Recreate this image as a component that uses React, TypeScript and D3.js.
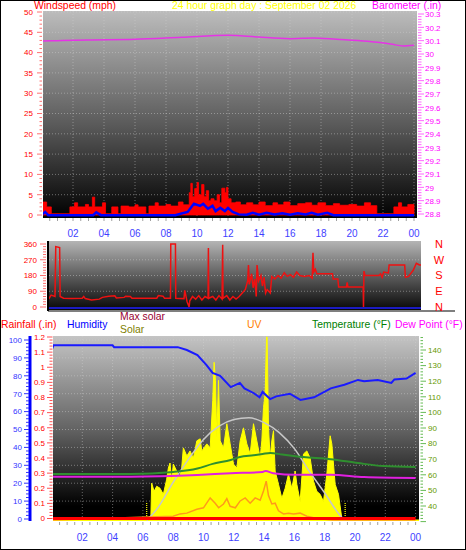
import React from "react";
import * as d3 from "d3";

const FONT = "'Liberation Sans', Arial, Helvetica, sans-serif";

// ---------- time axis ----------
const hourTickValues = [2, 4, 6, 8, 10, 12, 14, 16, 18, 20, 22, 24];
const hourTickLabels = ["02", "04", "06", "08", "10", "12", "14", "16", "18", "20", "22", "00"];

// ---------- top panel: wind speed (mph) & barometer (in) ----------
const gustHours = [0, 0.3, 0.6, 1.8, 2.1, 2.3, 2.8, 3.0, 3.25, 3.4, 3.9, 4.1, 4.5, 4.9, 5.1, 5.6, 6.0, 6.2, 6.7, 6.9, 7.3, 7.5, 8.0, 8.3, 8.8, 9.1, 9.5, 9.6, 9.7, 9.85, 10.0, 10.1, 10.3, 10.45, 10.6, 10.75, 10.9, 11.1, 11.3, 11.45, 11.6, 11.8, 11.9, 12.0, 12.2, 12.5, 12.8, 13.2, 13.6, 14.0, 14.4, 14.9, 15.2, 15.6, 16.0, 16.5, 17.0, 17.4, 17.8, 18.3, 18.8, 19.2, 19.8, 20.3, 20.8, 21.2, 21.6, 22.7, 23.0, 23.2, 23.6, 24.0];
const gustMph = [3.2, 2.0, 0.3, 2.0, 3.0, 2.0, 2.6, 2.0, 4.4, 2.0, 3.0, 0.3, 2.0, 0.3, 2.2, 2.0, 2.5, 2.0, 0.3, 2.2, 3.0, 2.2, 2.6, 2.2, 3.2, 2.5, 5.5, 7.8, 4.5, 6.5, 8.0, 5.0, 7.5, 4.5, 6.0, 3.5, 4.0, 3.5, 5.0, 3.0, 6.6, 5.5, 6.8, 4.0, 3.0, 3.2, 2.5, 3.0, 2.5, 3.2, 2.3, 3.0, 2.5, 3.2, 2.3, 2.8, 3.0, 2.4, 3.0, 2.3, 2.8, 2.4, 2.6, 2.2, 3.0, 2.3, 0.3, 2.0, 3.0, 2.0, 2.6, 2.0];

const avgWindHours = [0, 0.2, 0.4, 3.3, 3.5, 3.8, 8.6, 9.0, 9.4, 9.8, 10.2, 10.4, 10.7, 11.0, 11.2, 11.5, 11.8, 12.0, 12.3, 12.7, 13.2, 13.6, 14.0, 14.5, 15.0, 15.5, 16.0, 16.5, 17.0, 17.4, 17.8, 18.4, 18.8, 24];
const avgWindMph = [0.3, 1.0, 0.2, 0.2, 0.9, 0.2, 0.2, 0.6, 1.0, 3.0, 2.5, 3.0, 1.8, 2.5, 1.2, 2.0, 1.2, 2.0, 1.0, 0.4, 0.3, 0.8, 0.3, 0.8, 0.4, 0.7, 0.3, 0.7, 0.4, 0.8, 0.3, 0.8, 0.2, 0.2];

const baroHours = [0, 1, 3, 6, 9, 12, 13, 14, 16, 17.5, 19, 21, 22.5, 23.3, 24];
const baroInHg = [30.097, 30.1, 30.105, 30.11, 30.125, 30.14, 30.135, 30.127, 30.115, 30.12, 30.11, 30.095, 30.075, 30.06, 30.065];

const windTicks = [0, 5, 10, 15, 20, 25, 30, 35, 40, 45, 50];
const baroTicks = [28.8, 28.9, 29.0, 29.1, 29.2, 29.3, 29.4, 29.5, 29.6, 29.7, 29.8, 29.9, 30.0, 30.1, 30.2, 30.3];
const baroTickLabels = ["28.8", "28.9", "29", "29.1", "29.2", "29.3", "29.4", "29.5", "29.6", "29.7", "29.8", "29.9", "30", "30.1", "30.2", "30.3"];

// ---------- middle panel: wind direction ----------
const dirHours = [0, 0.2, 0.45, 0.5, 0.75, 0.78, 1.0, 1.5, 2.2, 2.3, 2.4, 2.8, 3.3, 3.5, 3.9, 4.3, 4.4, 4.9, 5.0, 5.3, 5.4, 7.0, 7.1, 7.4, 7.5, 7.88, 7.9, 8.2, 8.22, 8.75, 8.8, 8.95, 9.08, 9.12, 9.3, 9.5, 9.7, 9.9, 10.1, 10.3, 10.32, 10.34, 10.6, 10.8, 11.0, 11.2, 11.24, 11.26, 11.5, 11.7, 11.9, 12.1, 12.3, 12.5, 12.7, 12.85, 12.9, 12.95, 13.1, 13.2, 13.3, 13.4, 13.45, 13.55, 13.7, 13.8, 13.9, 14.0, 14.1, 14.3, 14.4, 14.6, 14.8, 15.0, 15.2, 15.4, 15.6, 15.8, 16.0, 16.2, 16.5, 16.8, 17.0, 17.05, 17.1, 17.2, 17.3, 18.3, 18.35, 18.65, 18.7, 19.2, 19.25, 19.3, 20.28, 20.3, 20.33, 20.4, 21.3, 21.4, 21.5, 21.6, 21.9, 21.95, 22.95, 23.0, 23.2, 23.5, 23.7, 23.9, 24];
const dirDeg = [40, 68, 60, 345, 340, 60, 50, 48, 50, 60, 48, 40, 45, 55, 62, 64, 52, 55, 62, 60, 50, 50, 65, 62, 50, 50, 360, 360, 50, 48, 95, 30, 0, 35, 60, 45, 65, 40, 60, 50, 337, 50, 60, 40, 65, 45, 355, 50, 65, 40, 60, 45, 60, 80, 100, 150, 240, 130, 190, 110, 160, 60, 240, 150, 180, 120, 170, 80, 100, 80, 175, 160, 180, 165, 195, 175, 185, 170, 200, 180, 175, 180, 165, 310, 200, 215, 190, 190, 160, 160, 115, 115, 140, 115, 115, 0, 205, 180, 180, 190, 170, 200, 195, 240, 240, 170, 175, 210, 250, 240, 240];

const dirTicks = [0, 90, 180, 270, 360];
const dirLetters = ["N", "E", "S", "W", "N"];

// ---------- bottom panel ----------
const humHours = [0, 0.1, 4.0, 4.1, 8.3, 8.9, 9.6, 10.2, 10.6, 11.1, 11.8, 12.4, 12.7, 13.3, 13.7, 13.9, 14.4, 14.8, 15.7, 16.4, 17.3, 18.4, 19.3, 20.2, 20.6, 21.5, 22.4, 22.6, 23.4, 24.0];
const humPct = [95, 97, 97, 96, 96, 94.4, 91.6, 86, 81.6, 80, 73.7, 76, 73, 70.4, 68, 71, 67, 68.5, 70, 66.5, 68, 73, 75, 77.7, 77, 77.7, 76, 78, 78.5, 81.6];

const tempHours = [0, 5.2, 8.0, 9.6, 10.6, 11.8, 12.4, 13.3, 13.9, 14.4, 15.2, 16.6, 18.4, 20.2, 21.9, 24];
const tempF = [60.5, 60.5, 61.8, 64, 67, 69.5, 71.4, 72.5, 73.3, 74, 73, 71.4, 70, 67.5, 65.6, 65];

const dewHours = [0, 5.2, 9.6, 11.8, 13.9, 14.1, 14.6, 16.1, 18.4, 20.6, 24];
const dewF = [58.8, 58.8, 59.9, 61, 61.8, 62.5, 61, 60, 60, 58.6, 58];

const rainHours = [0, 24];
const rainIn = [0, 0];

const solarHours = [6.25, 6.52, 6.58, 6.74, 6.91, 7.13, 7.35, 7.57, 7.68, 7.79, 7.9, 8.01, 8.23, 8.45, 8.56, 8.67, 8.9, 9.11, 9.33, 9.56, 9.78, 9.89, 10.22, 10.44, 10.61, 10.7, 10.79, 10.88, 10.99, 11.1, 11.32, 11.54, 11.76, 11.98, 12.2, 12.42, 12.64, 12.86, 13.08, 13.3, 13.52, 13.74, 13.85, 13.96, 14.07, 14.16, 14.2, 14.29, 14.4, 14.51, 14.62, 14.73, 14.95, 15.17, 15.39, 15.61, 15.83, 16.05, 16.16, 16.38, 16.6, 16.82, 17.04, 17.26, 17.48, 17.7, 17.92, 18.14, 18.36, 18.47, 18.69, 18.91, 19.13, 19.35];
const solarWm2 = [0, 5, 244, 191, 224, 211, 171, 270, 343, 376, 257, 369, 323, 290, 343, 475, 422, 455, 409, 521, 534, 455, 501, 475, 784, 1035, 916, 541, 916, 521, 475, 633, 501, 369, 343, 521, 606, 501, 435, 633, 521, 409, 521, 738, 831, 1200, 1200, 606, 409, 521, 587, 323, 237, 145, 211, 303, 211, 323, 237, 125, 435, 455, 409, 257, 191, 171, 125, 303, 554, 501, 237, 171, 13, 0];

const maxSolarHours = [6.25, 7, 8, 9, 10, 11, 12, 13, 14, 15, 16, 17, 18, 19, 19.35];
const maxSolarWm2 = [0, 85, 250, 400, 530, 615, 660, 672, 640, 575, 470, 320, 180, 35, 0];

const uvHours = [0, 8.0, 8.45, 8.9, 9.56, 10.0, 10.44, 10.77, 11.0, 11.32, 11.54, 11.76, 12.1, 12.42, 12.75, 13.08, 13.41, 13.74, 13.96, 14.14, 14.29, 14.51, 14.73, 14.95, 15.28, 15.61, 15.94, 16.38, 16.82, 17.48, 18.5, 24];
const uvIndex = [0, 0.25, 0.4, 0.45, 0.7, 0.8, 1.45, 1.1, 0.8, 1.05, 1.4, 0.9, 0.8, 1.25, 1.45, 1.1, 1.45, 1.3, 1.9, 2.55, 1.6, 1.05, 1.1, 0.6, 0.4, 0.45, 0.4, 0.45, 0.25, 0.1, 0, 0];

const sunEventHours = [6.25, 19.35];

const humTicks = [0, 10, 20, 30, 40, 50, 60, 70, 80, 90, 100];
const rainTicks = [0, 0.1, 0.2, 0.3, 0.4, 0.5, 0.6, 0.7, 0.8, 0.9, 1.0, 1.1, 1.2];
const rainTickLabels = ["0", "0.1", "0.2", "0.3", "0.4", "0.5", "0.6", "0.7", "0.8", "0.9", "1", "1.1", "1.2"];
const tempTicks = [40, 50, 60, 70, 80, 90, 100, 110, 120, 130, 140];

type P = [number, number];
const zip = (a: number[], b: number[]): P[] => a.map((h, i) => [h, b[i]] as P);

export default function App() {
  // scales
  const xT = d3.scaleLinear().domain([0, 24]).range([42, 414]);
  const yWind = d3.scaleLinear().domain([0, 50]).range([215, 12]);
  const yBaro = d3.scaleLinear().domain([28.8, 30.3]).range([214, 14]);

  const xM = d3.scaleLinear().domain([0, 24]).range([48, 421]);
  const yDir = d3.scaleLinear().domain([0, 360]).range([307, 244]);

  const xB = d3.scaleLinear().domain([0, 24]).range([52, 415.6]);
  const yHum = d3.scaleLinear().domain([0, 100]).range([519, 340]);
  const yRain = d3.scaleLinear().domain([0, 1.2]).range([518.5, 337]);
  const yTemp = d3.scaleLinear().domain([40, 140]).range([506, 350]);
  const ySolar = d3.scaleLinear().domain([0, 1200]).range([520.5, 337]);
  const yUV = d3.scaleLinear().domain([0, 12]).range([520, 337]);

  const gustArea = d3.area<P>().x(d => xT(d[0])).y0(yWind(0)).y1(d => yWind(d[1])).curve(d3.curveStepAfter)(zip(gustHours, gustMph)) || "";
  const avgLine = d3.line<P>().x(d => xT(d[0])).y(d => yWind(d[1]) + 1)(zip(avgWindHours, avgWindMph)) || "";
  const baroLine = d3.line<P>().x(d => xT(d[0])).y(d => yBaro(d[1])).curve(d3.curveMonotoneX)(zip(baroHours, baroInHg)) || "";

  const dirLine = d3.line<P>().x(d => xM(d[0])).y(d => yDir(d[1]))(zip(dirHours, dirDeg)) || "";

  const humLine = d3.line<P>().x(d => xB(d[0])).y(d => yHum(d[1]))(zip(humHours, humPct)) || "";
  const tempLine = d3.line<P>().x(d => xB(d[0])).y(d => yTemp(d[1])).curve(d3.curveMonotoneX)(zip(tempHours, tempF)) || "";
  const dewLine = d3.line<P>().x(d => xB(d[0])).y(d => yTemp(d[1])).curve(d3.curveMonotoneX)(zip(dewHours, dewF)) || "";
  const rainLine = d3.line<P>().x(d => xB(d[0])).y(d => yRain(d[1]))(zip(rainHours, rainIn)) || "";
  const solarArea = d3.area<P>().x(d => xB(d[0])).y0(ySolar(0)).y1(d => ySolar(d[1]))(zip(solarHours, solarWm2)) || "";
  const maxSolarLine = d3.line<P>().x(d => xB(d[0])).y(d => ySolar(d[1])).curve(d3.curveMonotoneX)(zip(maxSolarHours, maxSolarWm2)) || "";
  const uvLine = d3.line<P>().x(d => xB(d[0])).y(d => yUV(d[1]))(zip(uvHours, uvIndex)) || "";

  const top = { x: 43, y: 11, w: 374, h: 207 };
  const mid = { x: 49, y: 241, w: 372, h: 69 };
  const bot = { x: 53, y: 336, w: 366, h: 185 };

  const halfHours = d3.range(0.5, 24.01, 0.5);
  const grid = "rgba(210,210,210,0.45)";
  const HF = 10.4;

  return (
    <svg width={466} height={550} style={{ position: "absolute", left: 0, top: 0, background: "#fff" }} fontFamily={FONT}>
      <defs>
        <linearGradient id="gTop" x1="0" y1="0" x2="0" y2="1">
          <stop offset="0" stopColor="#bcbcbc" />
          <stop offset="0.55" stopColor="#5a5a5a" />
          <stop offset="1" stopColor="#000" />
        </linearGradient>
        <linearGradient id="gMid" x1="0" y1="0" x2="0" y2="1">
          <stop offset="0" stopColor="#b4b4b4" />
          <stop offset="1" stopColor="#080808" />
        </linearGradient>
        <linearGradient id="gBot" x1="0" y1="0" x2="0" y2="1">
          <stop offset="0" stopColor="#c4c4c4" />
          <stop offset="0.5" stopColor="#646464" />
          <stop offset="0.92" stopColor="#000" />
          <stop offset="1" stopColor="#000" />
        </linearGradient>
        <clipPath id="cTop"><rect x={top.x} y={top.y} width={top.w} height={top.h} /></clipPath>
        <clipPath id="cMid"><rect x={mid.x} y={mid.y} width={mid.w} height={mid.h} /></clipPath>
        <clipPath id="cBot"><rect x={bot.x} y={bot.y} width={bot.w} height={bot.h} /></clipPath>
        <clipPath id="cBotAxis"><rect x={0} y={335} width={466} height={200} /></clipPath>
      </defs>

      {/* outer frame */}
      <rect x={0.5} y={0.5} width={465} height={549} fill="none" stroke="#000" strokeWidth={1} />

      {/* ================= TOP PANEL ================= */}
      <text x={34} y={9} fontSize={HF} fill="#ff0000">Windspeed (mph)</text>
      <text x={172} y={9} fontSize={HF} fill="#ffff00">24 hour graph day : September 02 2026</text>
      <text x={372} y={9} fontSize={HF} fill="#ff00ff">Barometer (.in)</text>

      <rect x={top.x} y={top.y} width={top.w} height={top.h} fill="url(#gTop)" />
      <g clipPath="url(#cTop)">
        {windTicks.slice(1).map(v => (
          <line key={"hg" + v} x1={top.x} x2={top.x + top.w} y1={yWind(v)} y2={yWind(v)} stroke={grid} strokeDasharray="1,2" />
        ))}
        {hourTickValues.map(h => (
          <line key={"vg" + h} x1={xT(h)} x2={xT(h)} y1={top.y} y2={top.y + top.h} stroke={grid} strokeDasharray="1,2" />
        ))}
        <path d={gustArea} fill="#ff0000" stroke="#ff0000" strokeWidth={0.8} />
        <path d={avgLine} fill="none" stroke="#0000ff" strokeWidth={2.5} />
        <path d={baroLine} fill="none" stroke="#e633e6" strokeWidth={1.5} />
      </g>
      {/* wind axis */}
      {d3.range(0, 50.01, 1).map(v => (
        <line key={"wt" + v} x1={v % 5 === 0 ? 37 : 39.5} x2={42} y1={yWind(v)} y2={yWind(v)} stroke="#ff7070" strokeWidth={1} />
      ))}
      {windTicks.map(v => (
        <text key={"wl" + v} x={33} y={yWind(v)} dy="0.35em" fontSize={8} fill="#ff0000" textAnchor="end">{v}</text>
      ))}
      {/* barometer axis */}
      {d3.range(0, 76).map(i => {
        const v = 28.8 + i * 0.02;
        const major = i % 5 === 0;
        return <line key={"bt" + i} x1={418} x2={major ? 424 : 421.5} y1={yBaro(v)} y2={yBaro(v)} stroke="#ff66ff" strokeWidth={1} />;
      })}
      {baroTicks.map((v, i) => (
        <text key={"bl" + i} x={425} y={yBaro(v) + 0.5} dy="0.35em" fontSize={8} fill="#ff00ff">{baroTickLabels[i]}</text>
      ))}
      {/* top x ticks */}
      {halfHours.map(h => (
        <line key={"txt" + h} x1={xT(h)} x2={xT(h)} y1={218} y2={221} stroke="#a0a0a0" />
      ))}
      {hourTickValues.map((h, i) => (
        <text key={"txl" + h} x={xT(h)} y={233} dy="0.35em" fontSize={10} fill="#3f3fff" textAnchor="middle">{hourTickLabels[i]}</text>
      ))}

      {/* ================= MIDDLE PANEL ================= */}
      <rect x={mid.x} y={mid.y} width={mid.w} height={mid.h} fill="url(#gMid)" />
      <g clipPath="url(#cMid)">
        {dirTicks.slice(1, 4).map(v => (
          <line key={"dg" + v} x1={mid.x} x2={mid.x + mid.w} y1={yDir(v)} y2={yDir(v)} stroke={grid} strokeDasharray="1,2" />
        ))}
        <line x1={mid.x} x2={mid.x + mid.w} y1={308} y2={308} stroke="#2020ff" strokeWidth={1.5} />
        <path d={dirLine} fill="none" stroke="#ee1111" strokeWidth={1.5} />
      </g>
      <line x1={48} x2={48} y1={241} y2={311} stroke="#000" strokeWidth={2} />
      <line x1={48} x2={455} y1={311} y2={311} stroke="#000" strokeWidth={1.2} />
      {d3.range(0, 361, 15).map(v => (
        <line key={"dt" + v} x1={v % 90 === 0 ? 40 : 43} x2={46} y1={yDir(v)} y2={yDir(v)} stroke="#ff7070" />
      ))}
      {dirTicks.map(v => (
        <text key={"dl" + v} x={37} y={yDir(v)} dy="0.35em" fontSize={8} fill="#ff0000" textAnchor="end">{v}</text>
      ))}
      {dirTicks.map((v, i) => (
        <text key={"dL" + v} x={439} y={yDir(v)} dy="0.36em" fontSize={11} fill="#ff0000" textAnchor="middle">{dirLetters[i]}</text>
      ))}

      {/* ================= BOTTOM PANEL ================= */}
      <text x={1} y={328} fontSize={HF} fill="#ff0000">Rainfall (.in)</text>
      <text x={67} y={328} fontSize={HF} fill="#0000ff">Humidity</text>
      <text x={120} y={320} fontSize={HF} fill="#990033">Max solar</text>
      <text x={120} y={333} fontSize={HF} fill="#808000">Solar</text>
      <text x={247} y={328} fontSize={HF} fill="#ff8000">UV</text>
      <text x={312} y={328} fontSize={HF} fill="#008000">Temperature (°F)</text>
      <text x={395} y={328} fontSize={HF} fill="#ff00ff">Dew Point (°F)</text>

      <rect x={bot.x} y={bot.y} width={bot.w} height={bot.h} fill="url(#gBot)" />
      <g clipPath="url(#cBot)">
        {humTicks.slice(1).map(v => (
          <line key={"bg" + v} x1={bot.x} x2={bot.x + bot.w} y1={yHum(v)} y2={yHum(v)} stroke={grid} strokeDasharray="1,2" />
        ))}
        {hourTickValues.map(h => (
          <line key={"bvg" + h} x1={xB(h)} x2={xB(h)} y1={bot.y} y2={bot.y + bot.h} stroke={grid} strokeDasharray="1,2" />
        ))}
        <line x1={bot.x} x2={bot.x + bot.w} y1={520.5} y2={520.5} stroke="#ffff00" strokeWidth={2} />
        <path d={solarArea} fill="#ffff00" stroke="#ffff00" strokeWidth={1} />
        {sunEventHours.map(h => (
          <line key={"sun" + h} x1={xB(h)} x2={xB(h)} y1={503} y2={519} stroke="#ffff00" strokeWidth={1.2} strokeDasharray="1,1" />
        ))}
        <path d={maxSolarLine} fill="none" stroke="#c8c8c8" strokeWidth={1.5} />
        <path d={uvLine} fill="none" stroke="#ff9a1a" strokeWidth={1.5} />
        <path d={tempLine} fill="none" stroke="#2f8f2f" strokeWidth={2} />
        <path d={dewLine} fill="none" stroke="#e020e0" strokeWidth={2} />
        <path d={humLine} fill="none" stroke="#1a1aff" strokeWidth={2} />
        <path d={rainLine} fill="none" stroke="#ff0000" strokeWidth={3} />
      </g>

      {/* humidity axis */}
      <line x1={30} x2={30} y1={336} y2={521} stroke="#0000ff" strokeWidth={3} />
      {d3.range(0, 101, 2).map(v => (
        <line key={"ht" + v} x1={v % 10 === 0 ? 24 : 26} x2={29} y1={yHum(v)} y2={yHum(v)} stroke="#3333ff" />
      ))}
      {humTicks.map(v => (
        <text key={"hl" + v} x={22} y={yHum(v)} dy="0.35em" fontSize={8} fill="#3333ff" textAnchor="end">{v}</text>
      ))}

      {/* rainfall axis */}
      <g clipPath="url(#cBotAxis)">
        {d3.range(0, 61).map(i => {
          const v = i * 0.02;
          return <line key={"rt" + i} x1={i % 5 === 0 ? 47 : 49.5} x2={52.5} y1={yRain(v)} y2={yRain(v)} stroke="#ff5050" />;
        })}
        {rainTicks.map((v, i) => (
          <text key={"rl" + i} x={45} y={yRain(v)} dy="0.35em" fontSize={8} fill="#ff0000" textAnchor="end">{rainTickLabels[i]}</text>
        ))}
      </g>

      {/* temperature axis */}
      {d3.range(30, 149, 2).map(v => (
        <line key={"tt" + v} x1={420.5} x2={v % 10 === 0 ? 426 : 423} y1={yTemp(v)} y2={yTemp(v)} stroke="#66bb55" />
      ))}
      {tempTicks.map(v => (
        <text key={"tl" + v} x={428} y={yTemp(v)} dy="0.35em" fontSize={8} fill="#669900">{v}</text>
      ))}

      {/* bottom x ticks */}
      {halfHours.map(h => (
        <line key={"bxt" + h} x1={xB(h)} x2={xB(h)} y1={522} y2={525} stroke="#a0a0a0" />
      ))}
      {hourTickValues.map((h, i) => (
        <text key={"bxl" + h} x={xB(h)} y={537} dy="0.35em" fontSize={10} fill="#3f3fff" textAnchor="middle">{hourTickLabels[i]}</text>
      ))}
    </svg>
  );
}
